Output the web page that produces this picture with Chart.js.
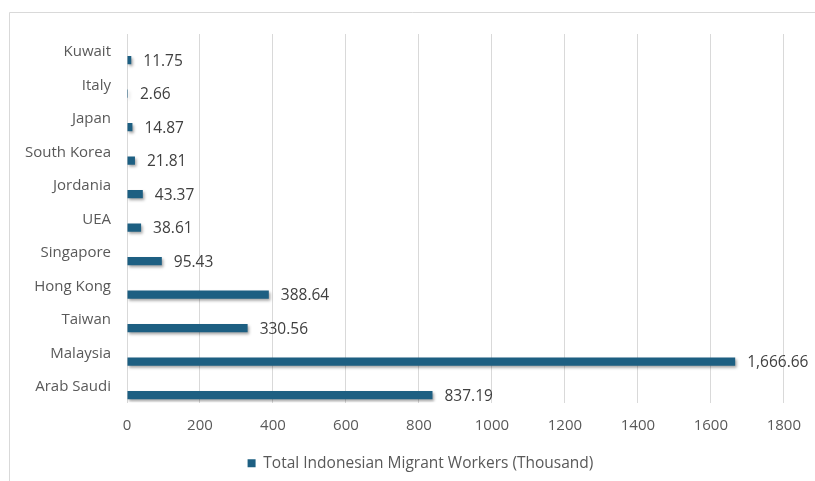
<!DOCTYPE html>
<html>
<head>
<meta charset="utf-8">
<script src="https://cdn.jsdelivr.net/npm/chart.js@4"></script>
<style>
  html, body { margin: 0; padding: 0; background: #fff; }
  #wrap { width: 815px; height: 481px; position: relative; }
</style>
</head>
<body>
<div id="wrap"><canvas id="c" width="815" height="481"></canvas></div>
<script>
const categories = ['Kuwait', 'Italy', 'Japan', 'South Korea', 'Jordania', 'UEA', 'Singapore', 'Hong Kong', 'Taiwan', 'Malaysia', 'Arab Saudi'];
const workerValues = [11.75, 2.66, 14.87, 21.81, 43.37, 38.61, 95.43, 388.64, 330.56, 1666.66, 837.19];
const emptySeries = [null, null, null, null, null, null, null, null, null, null, null];
const seriesName = 'Total Indonesian Migrant Workers (Thousand)';
const xTicks = [0, 200, 400, 600, 800, 1000, 1200, 1400, 1600, 1800];

const FONT = '"Open Sans", sans-serif';
const TEXT = '#595959';
const BAR = '#1d5f82';

const framePlugin = {
  id: 'frame',
  afterLayout(chart) {
    // centre the legend under the plot like the original
    const lg = chart.legend;
    if (lg) { lg.left += 22; lg.right += 22; }
  },
  beforeDraw(chart) {
    const ctx = chart.ctx;
    ctx.save();
    ctx.fillStyle = '#fff';
    ctx.fillRect(0, 0, chart.width, chart.height);
    ctx.strokeStyle = '#d9d9d9';
    ctx.lineWidth = 1;
    ctx.beginPath();
    ctx.moveTo(9.5, chart.height);
    ctx.lineTo(9.5, 12.5);
    ctx.lineTo(chart.width, 12.5);
    ctx.stroke();
    ctx.restore();
  }
};

const shadowPlugin = {
  id: 'barShadow',
  beforeDatasetDraw(chart) {
    const ctx = chart.ctx;
    ctx.save();
    ctx.shadowColor = 'rgba(0,0,0,0.35)';
    ctx.shadowBlur = 3;
    ctx.shadowOffsetX = 1.5;
    ctx.shadowOffsetY = 2;
  },
  afterDatasetDraw(chart) {
    chart.ctx.restore();
  }
};

const valueLabelPlugin = {
  id: 'valueLabels',
  afterDatasetsDraw(chart) {
    const ctx = chart.ctx;
    const meta = chart.getDatasetMeta(1);
    ctx.save();
    ctx.font = '15.5px ' + FONT;
    ctx.fillStyle = '#404040';
    ctx.textAlign = 'left';
    ctx.textBaseline = 'middle';
    meta.data.forEach((bar, i) => {
      const v = chart.data.datasets[1].data[i];
      const txt = v.toLocaleString('en-US', { minimumFractionDigits: 2, maximumFractionDigits: 2 });
      ctx.fillText(txt, bar.x + 12, bar.y + 1);
    });
    ctx.restore();
  }
};

new Chart(document.getElementById('c'), {
  type: 'bar',
  data: {
    labels: categories,
    datasets: [
      { label: '', data: emptySeries, backgroundColor: BAR },
      { label: seriesName, data: workerValues, backgroundColor: BAR }
    ]
  },
  options: {
    indexAxis: 'y',
    responsive: false,
    animation: false,
    devicePixelRatio: 1,
    layout: { padding: { left: 10, right: 28, top: 34, bottom: 0 } },
    datasets: { bar: { categoryPercentage: 1.12, barPercentage: 0.43 } },
    scales: {
      x: {
        min: 0, max: 1800,
        afterBuildTicks(scale) { scale.ticks = xTicks.map(v => ({ value: v })); },
        afterFit(scale) { scale.height = 43; },
        grid: { color: '#d9d9d9', drawTicks: false },
        border: { display: false },
        ticks: {
          padding: 14, color: TEXT, font: { family: FONT, size: 15 },
          callback: v => String(v)
        }
      },
      y: {
        afterFit(scale) { scale.width = 127 - 10; },
        grid: { display: false, drawTicks: false },
        border: { display: true, color: '#d9d9d9' },
        ticks: { padding: 16, labelOffset: 1, color: TEXT, font: { family: FONT, size: 15 } }
      }
    },
    plugins: {
      legend: {
        position: 'bottom',
        labels: {
          filter: item => item.datasetIndex === 1,
          boxWidth: 8, boxHeight: 8,
          color: TEXT,
          font: { family: FONT, size: 15.5 }
        }
      },
      tooltip: { enabled: false }
    }
  },
  plugins: [framePlugin, shadowPlugin, valueLabelPlugin]
});
</script>
</body>
</html>
